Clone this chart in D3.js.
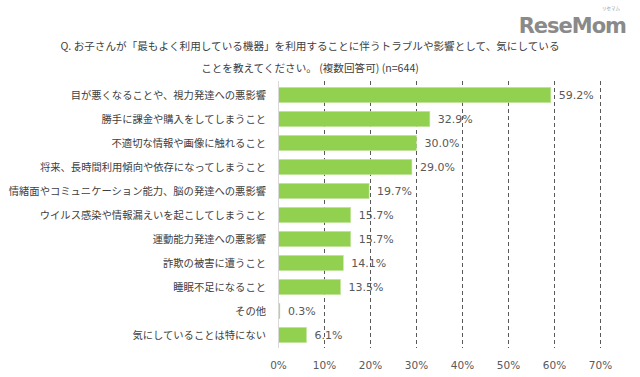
<!DOCTYPE html>
<html>
<head>
<meta charset="utf-8">
<script src="https://cdn.jsdelivr.net/npm/d3@7"></script>
<style>
  body { margin: 0; background: #fff; }
  text { font-family: "Noto Sans CJK JP", "DejaVu Sans", sans-serif; }
</style>
</head>
<body>
<div id="chart"></div>
<script>
var categories = [
  "目が悪くなることや、視力発達への悪影響",
  "勝手に課金や購入をしてしまうこと",
  "不適切な情報や画像に触れること",
  "将来、長時間利用傾向や依存になってしまうこと",
  "情緒面やコミュニケーション能力、脳の発達への悪影響",
  "ウイルス感染や情報漏えいを起こしてしまうこと",
  "運動能力発達への悪影響",
  "詐欺の被害に遭うこと",
  "睡眠不足になること",
  "その他",
  "気にしていることは特にない"
];
var values = [59.2, 32.9, 30.0, 29.0, 19.7, 15.7, 15.7, 14.1, 13.5, 0.3, 6.1];
var ticks = [0, 10, 20, 30, 40, 50, 60, 70];
var titleLines = [
  "Q. お子さんが「最もよく利用している機器」を利用することに伴うトラブルや影響として、気にしている",
  "ことを教えてください。 (複数回答可) (n=644)"
];

var w = 640, h = 377;
var svg = d3.select("#chart").append("svg").attr("width", w).attr("height", h);

// logo
svg.append("text")
  .attr("x", 626).attr("y", 33)
  .attr("text-anchor", "end")
  .style("font-family", "'DejaVu Sans', sans-serif")
  .style("font-weight", "bold")
  .style("font-size", "21px")
  .style("letter-spacing", "-1px")
  .attr("fill", "#8a8a8a")
  .text("ReseMom");
svg.append("text")
  .attr("x", 611).attr("y", 10)
  .attr("text-anchor", "middle")
  .style("font-size", "4.5px")
  .attr("fill", "#999")
  .text("リセマム");

// title
svg.selectAll(".title").data(titleLines).enter().append("text")
  .attr("class", "title")
  .attr("x", 310)
  .attr("y", (d, i) => 50 + i * 22)
  .attr("text-anchor", "middle")
  .style("font-size", "10.6px")
  .attr("fill", "#404040")
  .text(d => d);

var x = d3.scaleLinear().domain([0, 70]).range([278.5, 600.5]);
var y = d3.scaleBand().domain(categories).range([83, 347]).paddingInner(0.36).paddingOuter(0.18);

// grid
svg.append("g").selectAll("line").data(ticks.slice(1)).enter().append("line")
  .attr("x1", d => x(d)).attr("x2", d => x(d))
  .attr("y1", 81).attr("y2", 348)
  .attr("stroke", "#595959")
  .attr("stroke-width", 1)
  .attr("stroke-dasharray", "4,3");

// bars
svg.append("g").selectAll("rect").data(values).enter().append("rect")
  .attr("x", x(0))
  .attr("y", (d, i) => y(categories[i]))
  .attr("width", d => x(d) - x(0))
  .attr("height", y.bandwidth())
  .attr("fill", "#92d050")
  .attr("stroke", "#c6e6a4")
  .attr("stroke-width", 0.6);

// category axis line
svg.append("line")
  .attr("x1", x(0)).attr("x2", x(0))
  .attr("y1", 81).attr("y2", 348)
  .attr("stroke", "#d9d9d9")
  .attr("stroke-width", 1);

// category labels
svg.append("g").selectAll("text").data(categories).enter().append("text")
  .attr("x", 266)
  .attr("y", d => y(d) + y.bandwidth() / 2)
  .attr("dy", "0.35em")
  .attr("text-anchor", "end")
  .style("font-size", "10.3px")
  .attr("fill", "#404040")
  .text(d => d);

// value labels
svg.append("g").selectAll("text").data(values).enter().append("text")
  .attr("x", d => x(d) + 8)
  .attr("y", (d, i) => y(categories[i]) + y.bandwidth() / 2)
  .attr("dy", "0.35em")
  .style("font-family", "'DejaVu Sans', sans-serif")
  .style("font-size", "11px")
  .attr("fill", "#595959")
  .text(d => d.toFixed(1) + "%");

// x tick labels
svg.append("g").selectAll("text").data(ticks).enter().append("text")
  .attr("x", d => x(d))
  .attr("y", 365)
  .attr("dy", "0.35em")
  .attr("text-anchor", "middle")
  .style("font-family", "'DejaVu Sans', sans-serif")
  .style("font-size", "10.5px")
  .attr("fill", "#595959")
  .text(d => d + "%");
</script>
</body>
</html>
